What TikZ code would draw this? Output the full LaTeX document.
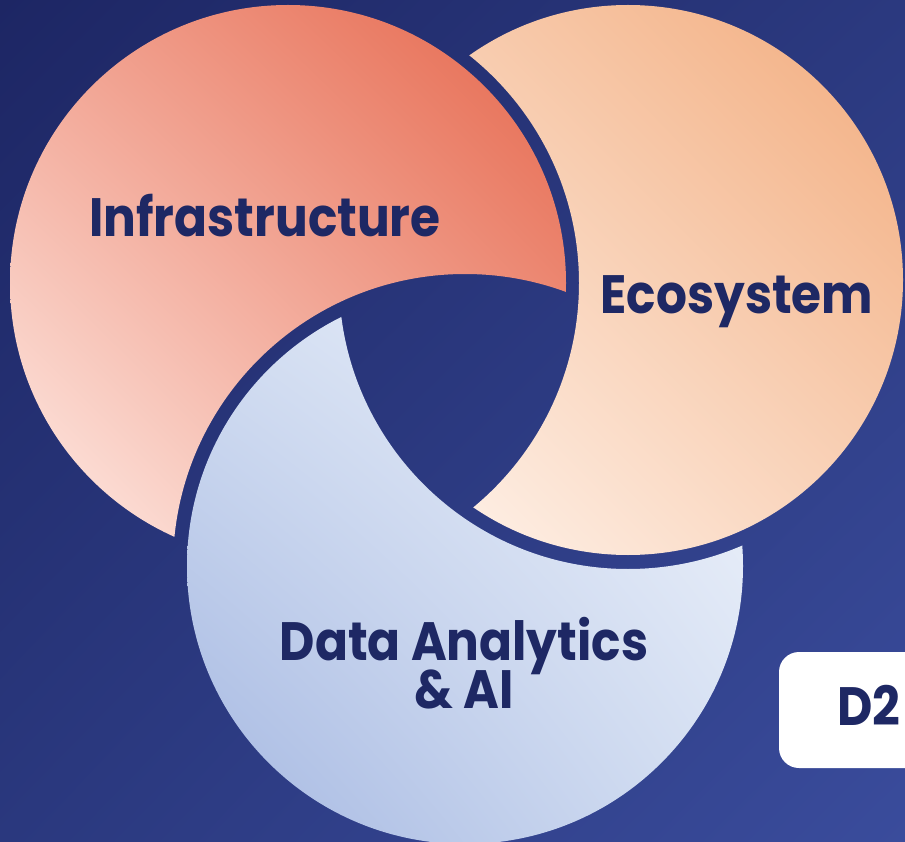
\documentclass[tikz,border=0pt]{standalone}
\usepackage{fontspec}
\usetikzlibrary{shadings}
\newfontfamily\diagfont{Poppins}[FakeStretch=0.9]
\definecolor{navytext}{RGB}{30,40,100}
\definecolor{bgtl}{RGB}{29,38,100}
\definecolor{bgtr}{RGB}{43,57,127}
\definecolor{bgbl}{RGB}{42,56,126}
\definecolor{bgbr}{RGB}{58,76,156}
\definecolor{infradark}{RGB}{229,101,74}
\definecolor{inframid}{RGB}{242,165,148}
\definecolor{infralight}{RGB}{255,240,235}
\definecolor{ecodark}{RGB}{242,171,124}
\definecolor{ecomid}{RGB}{249,210,184}
\definecolor{ecolight}{RGB}{255,248,243}
\definecolor{datadark}{RGB}{163,182,225}
\definecolor{datamid}{RGB}{212,223,242}
\definecolor{datalight}{RGB}{243,246,252}
\tikzset{
  labeltext/.style={text=navytext, inner sep=0pt, anchor=base,
    font=\diagfont\bfseries\fontsize{54}{43}\selectfont, align=center}
}
\begin{document}
\begin{tikzpicture}[x=1pt,y=1pt,yscale=-1,xscale=1]
\useasboundingbox (0,0) rectangle (905,842);

%Shape: Rectangle [background]
\shade [upper left=bgtl, upper right=bgtr, lower left=bgbl, lower right=bgbr] (0,0) rectangle (905,842);

%Shape: Circle [Ecosystem, cut by Infrastructure]
\begin{scope}[even odd rule]
\clip (0,0) rectangle (905,842) (288,283) circle (291);
\shade [upper right=ecodark, lower left=ecolight, upper left=ecomid, lower right=ecomid] (628,280) circle (275);
\end{scope}
%Shape: Circle [Infrastructure, cut by Data Analytics]
\begin{scope}[even odd rule]
\clip (0,0) rectangle (905,842) (465,566) circle (292);
\shade [upper right=infradark, lower left=infralight, upper left=inframid, lower right=inframid] (288,283) circle (278);
\end{scope}
%Shape: Circle [Data Analytics, cut by Ecosystem]
\begin{scope}[even odd rule]
\clip (0,0) rectangle (905,842) (628,280) circle (289);
\shade [upper right=datalight, lower left=datadark, upper left=datamid, lower right=datamid] (465,566) circle (278);
\end{scope}

%Shape: Rounded Rectangle
\draw [draw=none, fill=white, rounded corners=20] (779,652) rectangle (940,768);

% Text Node
\draw (265,237) node (infra) [labeltext] {Infrastructure};
% Text Node
\draw (737,314) node (eco) [labeltext] {Ecosystem};
% Text Node
\draw (464,708) node (data) [labeltext] {Data Analytics\\[-6pt]\& AI};
% Text Node
\draw (837,725) node (dtwo) [labeltext, anchor=base west] {D2};
\end{tikzpicture}
\end{document}
